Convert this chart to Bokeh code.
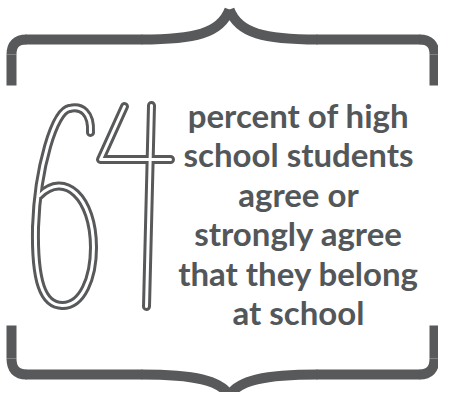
from bokeh.plotting import figure
from bokeh.models import Range1d
from bokeh.core.properties import value
from bokeh.embed import file_html
from bokeh.resources import INLINE

# ---- data ----
big_number = "64"
text_lines = ["percent of high", "school students", "agree or",
              "strongly agree", "that they belong", "at school"]
line_baselines = [122, 161.5, 201, 240.5, 280, 319.5]

FRAME = "#58595b"
TEXT = "#53575a"

p = figure(width=438, height=392, output_backend="svg", toolbar_location=None,
           x_range=Range1d(8, 446), y_range=Range1d(400, 8), min_border=0)
p.axis.visible = False
p.grid.visible = False
p.outline_line_color = None
p.background_fill_color = "white"
p.border_fill_color = "white"

# ---- frame (curly braces top & bottom) ----
L, R, PK = 19, 442, 237
lw = 10
for (yv0, yv1, yh, ypk, sgn) in [(93, 62, 47, 17, -1), (333, 366, 382, 403, 1)]:
    p.segment(x0=[L, R], y0=[yv0, yv0], x1=[L, R], y1=[yv1, yv1],
              line_color=FRAME, line_width=lw, line_cap="butt")
    p.quadratic(x0=[L, R], y0=[yv1, yv1], x1=[L + 15, R - 15], y1=[yh, yh],
                cx=[L, R], cy=[yh, yh], line_color=FRAME, line_width=lw)
    p.segment(x0=[L + 14, R - 14], y0=[yh, yh], x1=[PK - 87, PK + 87], y1=[yh, yh],
              line_color=FRAME, line_width=lw, line_cap="butt")
    p.bezier(x0=[PK - 88, PK + 88], y0=[yh, yh], x1=[PK, PK], y1=[ypk, ypk],
             cx0=[PK - 35, PK + 35], cy0=[yh, yh],
             cx1=[PK - 9, PK + 9], cy1=[yh + sgn * 6, yh + sgn * 6],
             line_color=FRAME, line_width=lw)

# ---- hand-lettered "64" (double-stroke outline) ----
six_bez = dict(
    x0=[98, 77, 43, 70, 101], y0=[140, 116, 235, 313, 255],
    x1=[77, 43, 70, 101, 47], y1=[116, 235, 313, 255, 203],
    cx0=[99, 62, 42, 90, 101], cy0=[120, 118, 288, 313, 205],
    cx1=[89, 45, 50, 101, 72], cy1=[113, 175, 313, 285, 178],
)
four_xs = [[132, 108, 178], [159, 154]]
four_ys = [[114, 167, 167], [113, 314]]

for col, w in [(FRAME, 9), ("white", 3)]:
    p.bezier(**six_bez, line_color=col, line_width=w, line_cap="round")
    p.multi_line(xs=four_xs, ys=four_ys, line_color=col, line_width=w,
                 line_cap="round", line_join="round")

# ---- text ----
p.text(x=[306] * len(text_lines), y=line_baselines, text=text_lines,
       text_align="center", text_baseline="alphabetic",
       text_font=value("Lato"), text_font_style="bold",
       text_font_size="33px", text_color=TEXT)

open("out.html", "w").write(file_html(p, INLINE))
